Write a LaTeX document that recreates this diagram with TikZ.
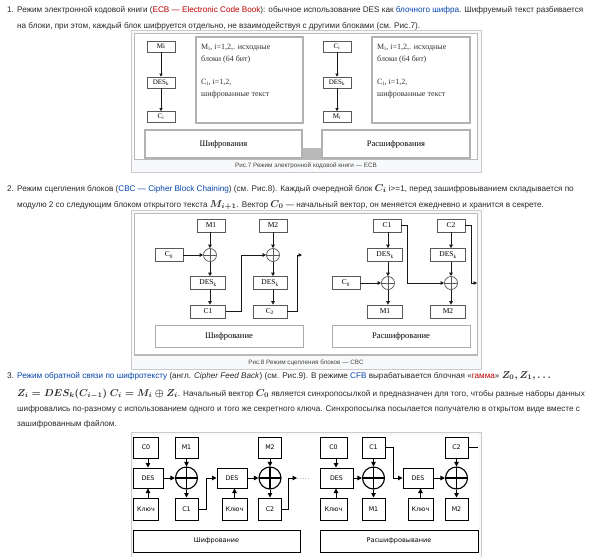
\documentclass[tikz,border=0pt]{standalone}
\usepackage{fontspec}
\usepackage{amsmath,amssymb}
\setmainfont{Liberation Sans}
\newfontfamily\serifcyr{Liberation Serif}
\newfontfamily\dejavu{DejaVu Sans}
\usetikzlibrary{arrows.meta}
\definecolor{txt}{HTML}{2A2A2A}
\definecolor{lnk}{HTML}{0645AD}
\definecolor{newlnk}{HTML}{BA0000}
\definecolor{thumbbd}{HTML}{C8CCD1}
\definecolor{thumbbg}{HTML}{F8F9FA}
\definecolor{capc}{HTML}{444444}
\newcommand{\lk}[1]{\textcolor{lnk}{#1}}
\newcommand{\rk}[1]{\textcolor{newlnk}{#1}}
\newcommand{\mth}[1]{{\fontsize{10}{10}\selectfont$\boldsymbol{#1}$}}
\begin{document}
\begin{tikzpicture}[x=1pt,y=-1pt,
  body/.style={anchor=base west,inner sep=0pt,font=\fontsize{8.15}{10}\selectfont,text=txt},
  capt/.style={inner sep=0pt,font=\fontsize{6.3}{8}\selectfont,text=capc},
  thumb/.style={draw=thumbbd,fill=thumbbg,line width=0.8pt},
  frame/.style={draw=gray!55,line width=1.6pt,fill=white},
  ebox/.style={draw=gray!70!black,line width=0.6pt,fill=white,minimum width=28pt,minimum height=11pt,inner sep=0pt,font=\serifcyr\fontsize{7}{8}\selectfont},
  tbox/.style={draw=gray!60,line width=1.1pt,fill=white,inner sep=0pt,font=\serifcyr\fontsize{8.5}{10}\selectfont},
  etxt/.style={anchor=base west,inner sep=0pt,font=\serifcyr\fontsize{8}{10}\selectfont,text=black!80},
  cbox/.style={draw=gray!70!black,line width=0.7pt,fill=white,minimum height=13pt,inner sep=0pt,font=\serifcyr\fontsize{7.5}{8}\selectfont},
  xorc/.style={circle,draw=gray!70!black,line width=0.7pt,minimum size=13pt,inner sep=0pt,
    path picture={\draw[gray!70!black,line width=0.7pt] (path picture bounding box.north)--(path picture bounding box.south) (path picture bounding box.west)--(path picture bounding box.east);}},
  fbx/.style={draw=black,line width=1pt,fill=white,minimum height=21pt,inner sep=0pt,font=\dejavu\fontsize{6.3}{8}\selectfont},
  xorf/.style={circle,draw=black,line width=1.1pt,minimum size=22pt,inner sep=0pt,
    path picture={\draw[black,line width=1.1pt] (path picture bounding box.north)--(path picture bounding box.south) (path picture bounding box.west)--(path picture bounding box.east);}},
  a7/.style={-{Triangle[length=3pt,width=3pt]},draw=gray!20!black,line width=0.6pt},
  a8/.style={-{Triangle[length=3.5pt,width=3.5pt]},draw=gray!20!black,line width=0.7pt},
  a9/.style={-{Triangle[length=4.5pt,width=4.5pt]},draw=black,line width=1pt}
]
\useasboundingbox[fill=white] (0,0) rectangle (595,557);

% ---------- paragraph 1 ----------
\node[body] (n1) at (7,12) {1.};
\node[body] (p1a) at (17,12) {Режим электронной кодовой книги (\rk{ECB — Electronic Code Book}): обычное использование DES как \lk{блочного шифра}. Шифруемый текст разбивается};
\node[body] (p1b) at (17,28) {на блоки, при этом, каждый блок шифруется отдельно, не взаимодействуя с другими блоками (см. Рис.7).};

% ---------- figure 7 ----------
\draw[thumb] (131,30) rectangle (481,172);
\draw[frame] (134.5,33.5) rectangle (477.5,159.5);
\fill[gray!55] (302,148) rectangle (322,159);
\node[ebox] (m7) at (161,46.5) {Mi};
\node[ebox] (d7) at (161,82.5) {DES\textsubscript{k}};
\node[ebox] (c7) at (161,117) {C\textsubscript{i}};
\draw[a7] (m7) -- (d7);
\draw[a7] (d7) -- (c7);
\node[tbox,minimum width=107pt,minimum height=86pt] (t7a) at (249.5,80) {};
\node[etxt] (t7a1) at (201,49.5) {M\textsubscript{i}, i=1,2,. исходные};
\node[etxt] (t7a2) at (201,61) {блоки (64 бит)};
\node[etxt] (t7a3) at (201,84.5) {C\textsubscript{i}, i=1,2,};
\node[etxt] (t7a4) at (201,96) {шифрованные текст};
\node[tbox,minimum width=157pt,minimum height=28pt] (enc7) at (223.5,144) {Шифрования};
\node[ebox] (c7r) at (337,46.5) {C\textsubscript{i}};
\node[ebox] (d7r) at (337,82.5) {DES\textsubscript{k}};
\node[ebox] (m7r) at (337,117) {M\textsubscript{i}};
\draw[a7] (c7r) -- (d7r);
\draw[a7] (d7r) -- (m7r);
\node[tbox,minimum width=98pt,minimum height=86pt] (t7b) at (421,80) {};
\node[etxt] (t7b1) at (377,49.5) {M\textsubscript{i}, i=1,2,. исходные};
\node[etxt] (t7b2) at (377,61) {блоки (64 бит)};
\node[etxt] (t7b3) at (377,84.5) {C\textsubscript{i}, i=1,2,};
\node[etxt] (t7b4) at (377,96) {шифрованные текст};
\node[tbox,minimum width=148pt,minimum height=28pt] (dec7) at (396,144) {Расшифрования};
\node[capt] (cap7) at (306,166) {Рис.7 Режим электронной кодовой книги — ECB};

% ---------- paragraph 2 ----------
\node[body] (n2) at (7,191) {2.};
\node[body] (p2a) at (17,191) {Режим сцепления блоков (\lk{CBC — Cipher Block Chaining}) (см. Рис.8). Каждый очередной блок \mth{C_i} i>=1, перед зашифровыванием складывается по};
\node[body] (p2b) at (17,207) {модулю 2 со следующим блоком открытого текста \mth{M_{i+1}}. Вектор \mth{C_0} — начальный вектор, он меняется ежедневно и хранится в секрете.};

% ---------- figure 8 ----------
\draw[thumb] (131,210) rectangle (481,369);
\draw[frame] (134.5,213.5) rectangle (477.5,355);
\node[cbox,minimum width=28pt] (m81) at (211,225.5) {M1};
\node[cbox,minimum width=28pt] (co8) at (169,255) {C\textsubscript{0}};
\node[xorc] (x81) at (210,255) {};
\node[cbox,minimum width=35pt] (d81) at (208,283) {DES\textsubscript{k}};
\node[cbox,minimum width=35pt] (c81) at (208,311.5) {C1};
\node[cbox,minimum width=28pt] (m82) at (273,225.5) {M2};
\node[xorc] (x82) at (273,255) {};
\node[cbox,minimum width=34pt] (d82) at (270,283) {DES\textsubscript{k}};
\node[cbox,minimum width=34pt] (c82) at (270,311.5) {C\textsubscript{2}};
\coordinate (o81) at (302,255);
\draw[a8] (m81.south -| x81) -- (x81);
\draw[a8] (co8) -- (x81);
\draw[a8] (x81) -- (d81.north -| x81);
\draw[a8] (d81.south -| x81) -- (c81.north -| x81);
\draw[a8] (c81.east) -- ++(15,0) |- (x82);
\draw[a8] (m82.south -| x82) -- (x82);
\draw[a8] (x82) -- (d82.north -| x82);
\draw[a8] (d82.south -| x82) -- (c82.north -| x82);
\draw[a8] (c82.east) -- ++(10,0) |- (o81);
\node[tbox,minimum width=148pt,minimum height=22pt,line width=0.9pt,draw=gray!65] (enc8) at (229,336) {Шифрование};
% decryption
\node[cbox,minimum width=28pt] (dc1) at (387,225.5) {C1};
\node[cbox,minimum width=35pt] (dd1) at (385,255) {DES\textsubscript{k}};
\node[cbox,minimum width=28pt] (dco) at (346,283) {C\textsubscript{0}};
\node[xorc] (dx1) at (388,283) {};
\node[cbox,minimum width=35pt] (dm1) at (385,311.5) {M1};
\node[cbox,minimum width=28pt] (dc2) at (451,225.5) {C2};
\node[cbox,minimum width=35pt] (dd2) at (448,255) {DES\textsubscript{k}};
\node[xorc] (dx2) at (451,283) {};
\node[cbox,minimum width=35pt] (dm2) at (448,311.5) {M2};
\coordinate (o82) at (477,283);
\draw[a8] (dc1.south -| dx1) -- (dd1.north -| dx1);
\draw[a8] (dd1.south -| dx1) -- (dx1);
\draw[a8] (dco) -- (dx1);
\draw[a8] (dx1) -- (dm1.north -| dx1);
\draw[a8] (dc1.east) -- ++(6,0) |- (dx2);
\draw[a8] (dc2.south -| dx2) -- (dd2.north -| dx2);
\draw[a8] (dd2.south -| dx2) -- (dx2);
\draw[a8] (dx2) -- (dm2.north -| dx2);
\draw[a8] (dc2.east) -- ++(6,0) |- (o82);
\node[tbox,minimum width=138pt,minimum height=22pt,line width=0.9pt,draw=gray!65] (dec8) at (401,336) {Расшифрование};
\node[capt] (cap8) at (306,362.5) {Рис.8 Режим сцепления блоков — CBC};

% ---------- paragraph 3 ----------
\node[body] (n3) at (7,378) {3.};
\node[body] (p3a) at (17,378) {\lk{Режим обратной связи по шифротексту} (англ. \textit{Cipher Feed Back}) (см. Рис.9). В режиме \lk{CFB} вырабатывается блочная «\rk{гамма}» \mth{Z_0, Z_1, \ldots}};
\node[body] (p3b) at (17,396) {\mth{Z_i = DES_k(C_{i-1})\ C_i = M_i \oplus Z_i}. Начальный вектор \mth{C_0} является синхропосылкой и предназначен для того, чтобы разные наборы данных};
\node[body] (p3c) at (17,411) {шифровались по-разному с использованием одного и того же секретного ключа. Синхропосылка посылается получателю в открытом виде вместе с};
\node[body] (p3d) at (17,426) {зашифрованным файлом.};

% ---------- figure 9 ----------
\draw[thumb] (131,432) rectangle (481,562);
\fill[white] (133.5,434.5) rectangle (478.5,557);
\node[fbx,minimum width=25pt] (fc0) at (146,447.5) {C0};
\node[fbx,minimum width=30pt,minimum height=20pt] (fd1) at (148,478) {DES};
\node[fbx,minimum width=25pt,minimum height=22pt] (fk1) at (146,509) {Ключ};
\node[xorf] (fx1) at (186.5,478) {};
\node[fbx,minimum width=23pt] (fm1) at (186.5,447.5) {M1};
\node[fbx,minimum width=23pt,minimum height=22pt] (fcc1) at (186.5,509) {C1};
\node[fbx,minimum width=30pt,minimum height=20pt] (fd2) at (232,478) {DES};
\node[fbx,minimum width=25pt,minimum height=22pt] (fk2) at (234.5,509) {Ключ};
\node[xorf] (fx2) at (270,478) {};
\node[fbx,minimum width=23pt] (fm2) at (270,447.5) {M2};
\node[fbx,minimum width=23pt,minimum height=22pt] (fcc2) at (270,509) {C2};
\coordinate (fo1) at (297,478);
\coordinate (fo2) at (309,478);
\draw[a9] (fc0.south -| 148,0) -- (fd1.north -| 148,0);
\draw[a9] (fk1.north -| 148,0) -- (fd1.south -| 148,0);
\draw[a9] (fd1) -- (fx1);
\draw[a9] (fm1) -- (fx1);
\draw[a9] (fx1) -- (fcc1);
\draw[a9] (fcc1.east) -- ++(8,0) |- (fd2);
\draw[a9] (fk2) -- (fk2 |- fd2.south);
\draw[a9] (fd2) -- (fx2);
\draw[a9] (fm2) -- (fx2);
\draw[a9] (fx2) -- (fcc2);
\draw[a9] (fcc2.east) -- ++(6,0) |- (fo1);
\draw[gray!60,dotted,line width=0.8pt] (fo1) -- (fo2);
\node[fbx,minimum width=167pt,minimum height=22pt,font=\dejavu\fontsize{6.5}{8}\selectfont] (fenc) at (216.5,541) {Шифрование};
% decryption
\node[fbx,minimum width=27pt] (gc0) at (333.5,447.5) {C0};
\node[fbx,minimum width=33pt,minimum height=20pt] (gd1) at (336.5,478) {DES};
\node[fbx,minimum width=27pt,minimum height=22pt] (gk1) at (333.5,509) {Ключ};
\node[xorf] (gx1) at (373.5,478) {};
\node[fbx,minimum width=23pt] (gcc1) at (373.5,447.5) {C1};
\node[fbx,minimum width=23pt,minimum height=22pt] (gm1) at (373.5,509) {M1};
\node[fbx,minimum width=30pt,minimum height=20pt] (gd2) at (418,478) {DES};
\node[fbx,minimum width=25pt,minimum height=22pt] (gk2) at (420.5,509) {Ключ};
\node[xorf] (gx2) at (456.5,478) {};
\node[fbx,minimum width=23pt] (gcc2) at (456.5,447.5) {C2};
\node[fbx,minimum width=23pt,minimum height=22pt] (gm2) at (456.5,509) {M2};
\coordinate (go1) at (478,447.5);
\draw[a9] (gc0.south -| 336,0) -- (gd1.north -| 336,0);
\draw[a9] (gk1.north -| 336,0) -- (gd1.south -| 336,0);
\draw[a9] (gd1) -- (gx1);
\draw[a9] (gcc1) -- (gx1);
\draw[a9] (gx1) -- (gm1);
\draw[a9] (gcc1.east) -- ++(8,0) |- (gd2);
\draw[a9] (gk2) -- (gk2 |- gd2.south);
\draw[a9] (gd2) -- (gx2);
\draw[a9] (gcc2) -- (gx2);
\draw[a9] (gx2) -- (gm2);
\draw[black,line width=1pt] (gcc2.east) -- (go1);
\node[fbx,minimum width=158pt,minimum height=22pt,font=\dejavu\fontsize{6.5}{8}\selectfont] (gdec) at (399,541) {Расшифровывание};
\end{tikzpicture}
\end{document}
